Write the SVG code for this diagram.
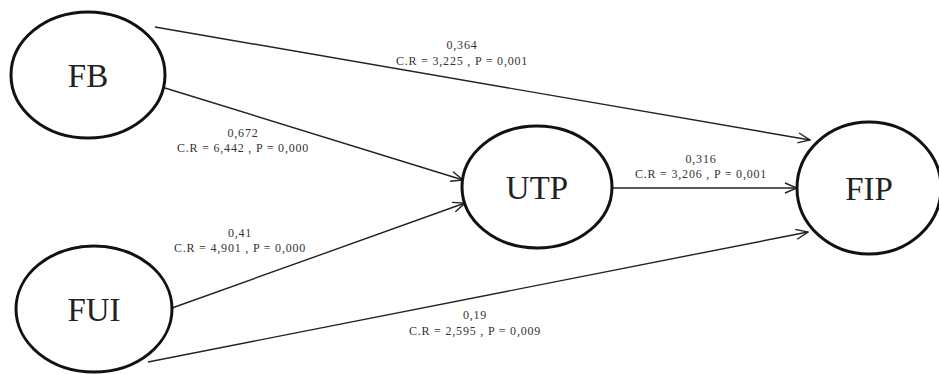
<svg xmlns="http://www.w3.org/2000/svg" width="939" height="374" viewBox="0 0 939 374">
<style>
.node ellipse{fill:#fff;stroke:#111;stroke-width:3}
.node text{font-family:"Liberation Serif","Times New Roman",serif;font-size:33px;fill:#222;text-anchor:middle}
.edge line{stroke:#222;stroke-width:1.4;fill:none;marker-end:url(#arr)}
.lbl{font-family:"Liberation Serif","Times New Roman",serif;font-size:12px;letter-spacing:0.8px;fill:#333;text-anchor:middle}
</style>
<defs>
<marker id="arr" viewBox="0 0 14 12" refX="13" refY="6" markerWidth="14" markerHeight="12" markerUnits="userSpaceOnUse" orient="auto">
<path d="M1,1 L13,6 L1,11" fill="none" stroke="#222" stroke-width="1.4"/>
</marker>
</defs>
<rect width="939" height="374" fill="#fff"/>
<g id="connectors" class="edge">
<line x1="155" y1="27" x2="810" y2="140"/>
<line x1="165" y1="88" x2="463" y2="180"/>
<line x1="172" y1="308" x2="465" y2="203"/>
<line x1="148" y1="362" x2="808" y2="232"/>
<line x1="613" y1="188" x2="797" y2="188"/>
</g>
<g id="labels">
<text class="lbl" x="462" y="49">0,364</text>
<text class="lbl" x="462" y="65">C.R = 3,225 , P = 0,001</text>
<text class="lbl" x="243" y="137">0,672</text>
<text class="lbl" x="243" y="152">C.R = 6,442 , P = 0,000</text>
<text class="lbl" x="240" y="237">0,41</text>
<text class="lbl" x="240" y="252">C.R = 4,901 , P = 0,000</text>
<text class="lbl" x="701" y="163">0,316</text>
<text class="lbl" x="701" y="178">C.R = 3,206 , P = 0,001</text>
<text class="lbl" x="475" y="319">0,19</text>
<text class="lbl" x="475" y="335">C.R = 2,595 , P = 0,009</text>
</g>
<g id="FB" class="node"><ellipse cx="88" cy="75" rx="77" ry="63"/><text x="88" y="87">FB</text></g>
<g id="FUI" class="node"><ellipse cx="94" cy="309" rx="78" ry="63"/><text x="94" y="321">FUI</text></g>
<g id="UTP" class="node"><ellipse cx="537" cy="187" rx="75" ry="61"/><text x="537" y="199">UTP</text></g>
<g id="FIP" class="node"><ellipse cx="869" cy="188" rx="72" ry="66"/><text x="869" y="200">FIP</text></g>
</svg>
